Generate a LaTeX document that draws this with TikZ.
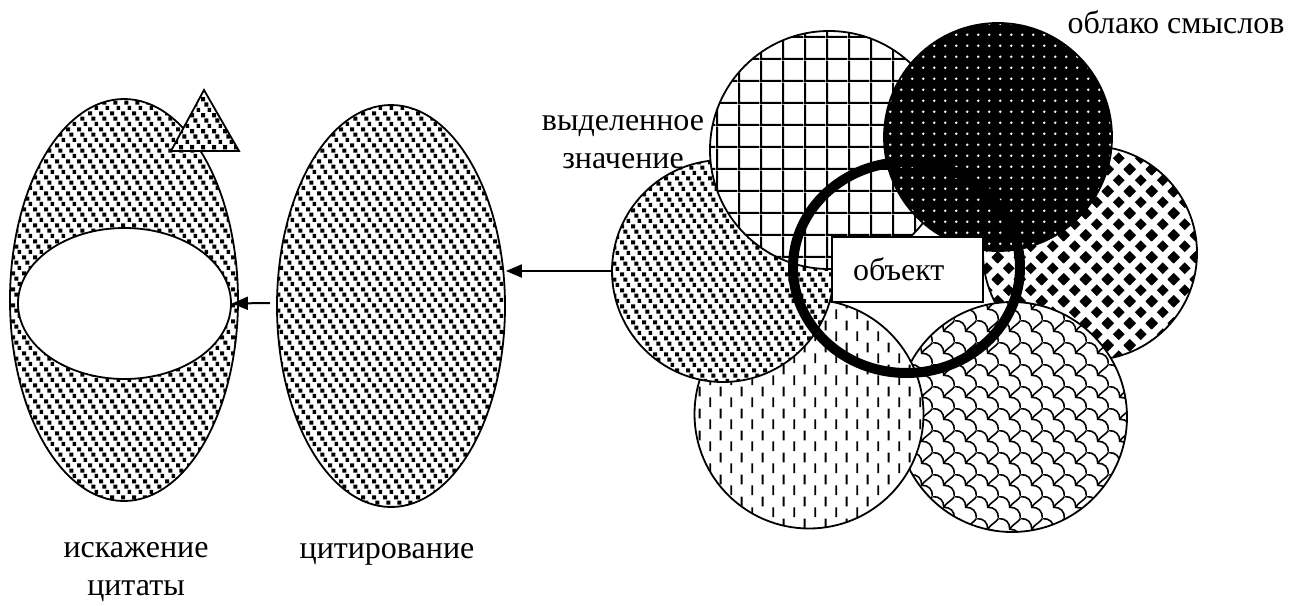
\documentclass[tikz,border=0pt]{standalone}
\usepackage{fontspec}
\setmainfont{Liberation Serif}
\usepackage{tikz}
\usetikzlibrary{shapes.geometric, arrows.meta, patterns}

% fill patterns
\pgfdeclarepatternformonly{sqconfetti}{\pgfqpoint{0pt}{0pt}}{\pgfqpoint{10.5pt}{15.9pt}}{\pgfqpoint{10.5pt}{15.9pt}}{%
  \pgfpathrectangle{\pgfqpoint{0pt}{10.6pt}}{\pgfqpoint{4.2pt}{4.2pt}}%
  \pgfpathrectangle{\pgfqpoint{3.5pt}{5.3pt}}{\pgfqpoint{4.2pt}{4.2pt}}%
  \pgfpathrectangle{\pgfqpoint{7pt}{0pt}}{\pgfqpoint{3.5pt}{4.2pt}}%
  \pgfusepath{fill}}
\pgfdeclarepatternformonly{gridsq}{\pgfqpoint{0pt}{0pt}}{\pgfqpoint{21.7pt}{21.7pt}}{\pgfqpoint{21.7pt}{21.7pt}}{%
  \pgfpathrectangle{\pgfqpoint{0pt}{0pt}}{\pgfqpoint{21.7pt}{2.2pt}}%
  \pgfpathrectangle{\pgfqpoint{0pt}{0pt}}{\pgfqpoint{2.2pt}{21.7pt}}%
  \pgfusepath{fill}}
\pgfdeclarepatternformonly{whitedots}{\pgfqpoint{0pt}{0pt}}{\pgfqpoint{10.8pt}{10.8pt}}{\pgfqpoint{10.8pt}{10.8pt}}{%
  \pgfpathcircle{\pgfqpoint{5.4pt}{5.4pt}}{1.4pt}%
  \pgfusepath{fill}}
\newcommand\dmdat[2]{%
  \pgfpathmoveto{\pgfpoint{#1pt-6pt}{#2pt}}%
  \pgfpathlineto{\pgfpoint{#1pt}{#2pt-6pt}}%
  \pgfpathlineto{\pgfpoint{#1pt+6pt}{#2pt}}%
  \pgfpathlineto{\pgfpoint{#1pt}{#2pt+6pt}}%
  \pgfpathclose}
\pgfdeclarepatternformonly{diamonds}{\pgfqpoint{0pt}{0pt}}{\pgfqpoint{21.7pt}{21.7pt}}{\pgfqpoint{21.7pt}{21.7pt}}{%
  \dmdat{0}{0}\dmdat{21.7}{0}\dmdat{0}{21.7}\dmdat{21.7}{21.7}\dmdat{10.85}{10.85}%
  \pgfusepath{fill}}
\pgfdeclarepatternformonly{vdashes}{\pgfqpoint{0pt}{0pt}}{\pgfqpoint{21.4pt}{21.7pt}}{\pgfqpoint{21.4pt}{21.7pt}}{%
  \pgfpathrectangle{\pgfqpoint{4.4pt}{1pt}}{\pgfqpoint{2pt}{9.8pt}}%
  \pgfpathrectangle{\pgfqpoint{15.1pt}{11.85pt}}{\pgfqpoint{2pt}{9.8pt}}%
  \pgfusepath{fill}}
\pgfdeclarepatternformonly{shingle}{\pgfqpoint{0pt}{0pt}}{\pgfqpoint{21.7pt}{21.7pt}}{\pgfqpoint{21.7pt}{21.7pt}}{%
  \pgfsetlinewidth{1.6pt}%
  \pgfpathmoveto{\pgfqpoint{0pt}{21.7pt}}%
  \pgfpathcurveto{\pgfqpoint{7pt}{21.7pt}}{\pgfqpoint{10.85pt}{17.85pt}}{\pgfqpoint{10.85pt}{10.85pt}}%
  \pgfpathcurveto{\pgfqpoint{17.85pt}{10.85pt}}{\pgfqpoint{21.7pt}{7pt}}{\pgfqpoint{21.7pt}{0pt}}%
  \pgfpathmoveto{\pgfqpoint{10.85pt}{10.85pt}}%
  \pgfpathcurveto{\pgfqpoint{14pt}{16pt}}{\pgfqpoint{17pt}{16pt}}{\pgfqpoint{21.7pt}{21.7pt}}%
  \pgfusepath{stroke}}

\tikzset{
  outl/.style={draw, line width=1.8pt, inner sep=0pt},
  confetti/.style={outl, preaction={fill=white}, pattern=sqconfetti},
  txt/.style={font=\fontsize{32}{38}\selectfont},
  lbl/.style={txt, align=center, inner sep=0pt},
  arr/.style={-{Triangle[length=16pt,width=13pt]}, line width=2pt}
}

\begin{document}
\begin{tikzpicture}[x=1pt, y=-1pt]
  \useasboundingbox (0,0) rectangle (1290,605);

  % Distorted quote
  \node[confetti, ellipse, minimum width=228pt, minimum height=402pt] (distort) at (124,300) {};
  \draw[confetti] (204,90) -- (171,151) -- (239,151) -- cycle;
  \node[outl, ellipse, fill=white, minimum width=213pt, minimum height=151pt] (hole) at (124.5,303.5) {};
  \coordinate (holein) at (270,303);
  \draw[arr] (holein) -- (hole.east);

  % Quoting
  \node[confetti, ellipse, minimum width=228pt, minimum height=402pt] (citing) at (391,306) {};

  % Cloud of meanings
  \node[outl, circle, preaction={fill=white}, pattern=diamonds, minimum size=214pt] (diam) at (1090,253) {};
  \node[outl, circle, preaction={fill=white}, pattern=shingle, minimum size=230pt] (shingle) at (1012,417) {};
  \node[outl, circle, preaction={fill=white}, pattern=vdashes, minimum size=229pt] (vdash) at (809,414) {};
  \node[confetti, circle, minimum size=222pt] (chosen) at (723,271) {};
  \node[outl, circle, preaction={fill=white}, pattern=gridsq, minimum size=238pt] (grid) at (829,150) {};
  \node[outl, circle, preaction={fill=black}, pattern=whitedots, pattern color=white, minimum size=228pt] (dark) at (998,137) {};
  \node[draw, ellipse, line width=10pt, inner sep=0pt, minimum width=227pt, minimum height=211pt] (ring) at (906.5,267.5) {};
  \node[txt, draw, fill=white, line width=1.5pt, minimum height=65pt, text width=109pt, inner xsep=21pt, align=left] (obj) at (907.5,269.5) {объект};

  % Arrow to quoting
  \draw[arr] (chosen.west) -- (chosen.west -| citing.east);

  % Labels
  \node[lbl, anchor=base] (cloudlbl) at (1176,33) {облако смыслов};
  \node[lbl] (chosenlbl) at (623,142) {выделенное\\значение};
  \node[lbl, anchor=base] (citelbl) at (387,558) {цитирование};
  \node[lbl] (distortlbl) at (136,572) {искажение\\цитаты};
\end{tikzpicture}
\end{document}
